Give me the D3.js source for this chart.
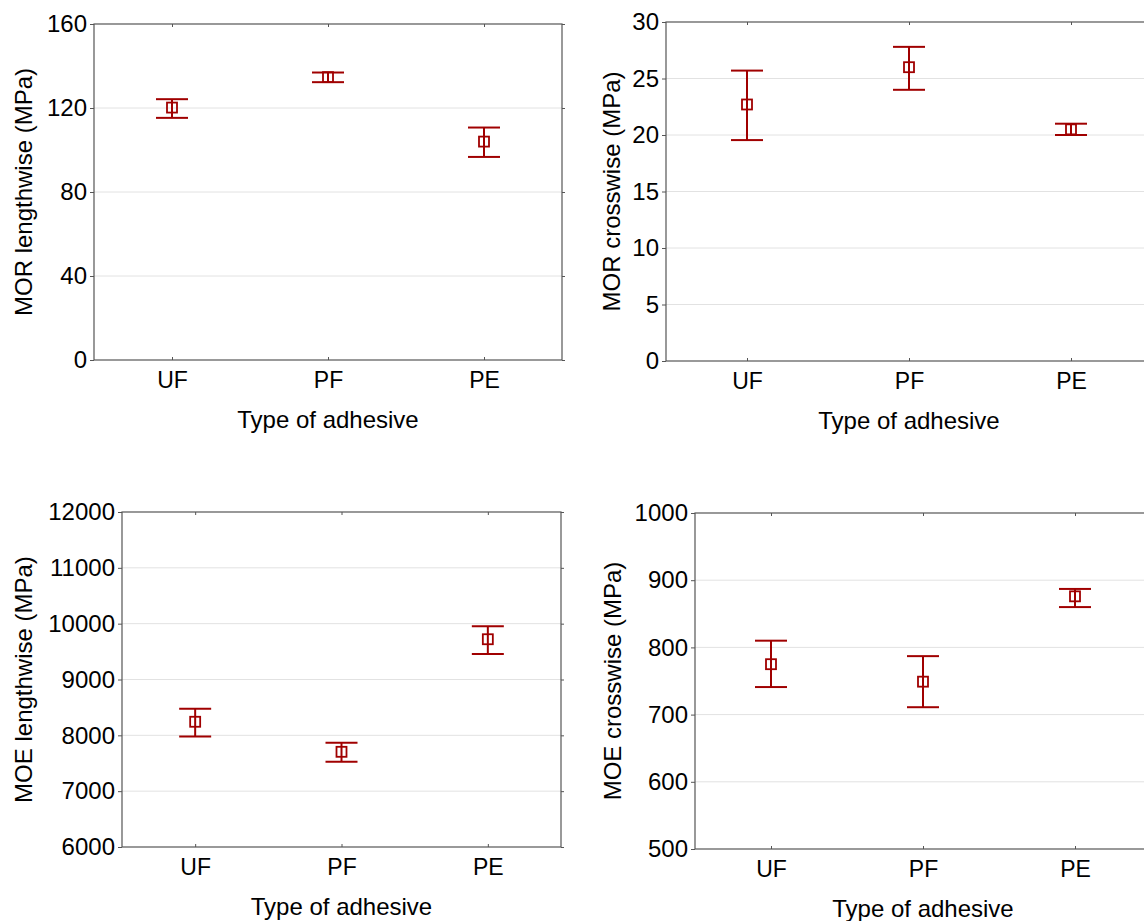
<!DOCTYPE html>
<html>
<head>
<meta charset="utf-8">
<script src="https://cdn.jsdelivr.net/npm/d3@7"></script>
<style>
  body { margin: 0; background: #fff; }
  text { font-family: "Liberation Sans", Arial, sans-serif; fill: #000; }
</style>
</head>
<body>
<div id="chart"></div>
<script>
// adhesive types on the x axis
const categories = ["UF", "PF", "PE"]

// MOR lengthwise (MPa)
const morLengthMean = [120.2, 134.7, 104.0]
const morLengthLow = [115.3, 132.3, 96.7]
const morLengthHigh = [124.2, 136.9, 110.7]
const morLengthTicks = [0, 40, 80, 120, 160]

// MOR crosswise (MPa)
const morCrossMean = [22.7, 26.0, 20.5]
const morCrossLow = [19.55, 24.0, 20.0]
const morCrossHigh = [25.7, 27.8, 21.0]
const morCrossTicks = [0, 5, 10, 15, 20, 25, 30]

// MOE lengthwise (MPa)
const moeLengthMean = [8243, 7705, 9721]
const moeLengthLow = [7980, 7525, 9458]
const moeLengthHigh = [8477, 7866, 9954]
const moeLengthTicks = [6000, 7000, 8000, 9000, 10000, 11000, 12000]

// MOE crosswise (MPa)
const moeCrossMean = [775, 749, 876]
const moeCrossLow = [741, 711, 860]
const moeCrossHigh = [810, 787, 887]
const moeCrossTicks = [500, 600, 700, 800, 900, 1000]

const xTitle = "Type of adhesive"
const red = "#a00000"
const font = "Liberation Sans, Arial, sans-serif"

const svg = d3.select("#chart").append("svg")
    .attr("width", 1144)
    .attr("height", 921)
    .style("display", "block")

svg.append("rect").attr("width", 1144).attr("height", 921).attr("fill", "#fff")

const panels = [
    {label: "MOR lengthwise (MPa)", mean: morLengthMean, low: morLengthLow, high: morLengthHigh, ticks: morLengthTicks,
        left: 94, right: 562, top: 24, bottom: 360, labelX: 24},
    {label: "MOR crosswise (MPa)", mean: morCrossMean, low: morCrossLow, high: morCrossHigh, ticks: morCrossTicks,
        left: 666, right: 1152, top: 22, bottom: 361, labelX: 612},
    {label: "MOE lengthwise (MPa)", mean: moeLengthMean, low: moeLengthLow, high: moeLengthHigh, ticks: moeLengthTicks,
        left: 122, right: 561, top: 512, bottom: 847, labelX: 24},
    {label: "MOE crosswise (MPa)", mean: moeCrossMean, low: moeCrossLow, high: moeCrossHigh, ticks: moeCrossTicks,
        left: 695, right: 1151, top: 513, bottom: 849, labelX: 613}
]

panels.forEach(function (p) {
    const g = svg.append("g")

    const x = d3.scalePoint()
        .domain(categories)
        .range([p.left, p.right])
        .padding(0.5)

    const y = d3.scaleLinear()
        .domain(d3.extent(p.ticks))
        .range([p.bottom, p.top])

    // grid lines
    g.append("g")
        .selectAll("line")
        .data(p.ticks.slice(1, -1))
        .join("line")
        .attr("x1", p.left)
        .attr("x2", p.right)
        .attr("y1", d => y(d))
        .attr("y2", d => y(d))
        .attr("stroke", "#e2e2e2")
        .attr("stroke-width", 1)

    // y axis on the left, small ticks outward
    const yAxis = g.append("g")
        .attr("transform", `translate(${p.left},0)`)
        .call(d3.axisLeft(y).tickValues(p.ticks).tickFormat(d3.format("d"))
            .tickSize(4).tickSizeOuter(0).tickPadding(3))
    yAxis.select(".domain").remove()
    yAxis.selectAll("line").attr("stroke", "#555")
    yAxis.selectAll("text").attr("font-size", 24).attr("font-family", font).attr("fill", "#000")

    // y ticks on the right
    g.append("g")
        .attr("transform", `translate(${p.right},0)`)
        .call(d3.axisRight(y).tickValues(p.ticks).tickSize(3).tickSizeOuter(0).tickFormat(""))
        .call(a => a.select(".domain").remove())
        .selectAll("line").attr("stroke", "#555")

    // x axis at the bottom, ticks inward
    const xAxis = g.append("g")
        .attr("transform", `translate(0,${p.bottom})`)
        .call(d3.axisBottom(x).tickSize(-3).tickSizeOuter(0).tickPadding(12))
    xAxis.select(".domain").remove()
    xAxis.selectAll("line").attr("stroke", "#555")
    xAxis.selectAll("text").attr("font-size", 23).attr("font-family", font).attr("fill", "#000")

    // top ticks inward
    g.append("g")
        .attr("transform", `translate(0,${p.top})`)
        .call(d3.axisTop(x).tickSize(-3).tickSizeOuter(0).tickFormat(""))
        .call(a => a.select(".domain").remove())
        .selectAll("line").attr("stroke", "#555")

    // frame
    g.append("rect")
        .attr("x", p.left)
        .attr("y", p.top)
        .attr("width", p.right - p.left)
        .attr("height", p.bottom - p.top)
        .attr("fill", "none")
        .attr("stroke", "#555")
        .attr("stroke-width", 1.2)

    // error bars
    const rows = categories.map((c, i) => ({c: c, mean: p.mean[i], low: p.low[i], high: p.high[i]}))
    const bars = g.append("g")
        .selectAll("g")
        .data(rows)
        .join("g")
        .attr("stroke", red)
        .attr("stroke-width", 2)
        .attr("fill", "none")

    bars.append("line")
        .attr("x1", d => x(d.c)).attr("x2", d => x(d.c))
        .attr("y1", d => y(d.low)).attr("y2", d => y(d.high))
    bars.append("line")
        .attr("x1", d => x(d.c) - 16).attr("x2", d => x(d.c) + 16)
        .attr("y1", d => y(d.high)).attr("y2", d => y(d.high))
    bars.append("line")
        .attr("x1", d => x(d.c) - 16).attr("x2", d => x(d.c) + 16)
        .attr("y1", d => y(d.low)).attr("y2", d => y(d.low))
    bars.append("rect")
        .attr("x", d => x(d.c) - 5)
        .attr("y", d => y(d.mean) - 5)
        .attr("width", 10)
        .attr("height", 10)
        .attr("stroke-width", 1.8)

    // axis titles
    g.append("text")
        .attr("x", (p.left + p.right) / 2)
        .attr("y", p.bottom + 68)
        .attr("text-anchor", "middle")
        .attr("font-size", 24)
        .text(xTitle)

    g.append("text")
        .attr("transform", `translate(${p.labelX + 8},${(p.top + p.bottom) / 2}) rotate(-90)`)
        .attr("text-anchor", "middle")
        .attr("font-size", 24)
        .text(p.label)
})
</script>
</body>
</html>
